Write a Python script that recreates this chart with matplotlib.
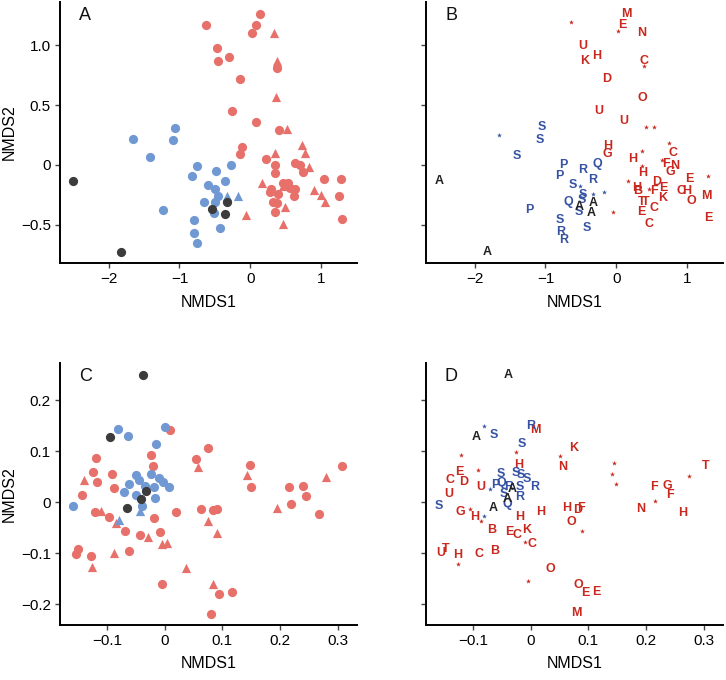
import numpy as np
import matplotlib
matplotlib.use("Agg")
import matplotlib.pyplot as plt

plt.rcParams['font.family'] = ['Liberation Sans', 'DejaVu Sans']

RED = '#E8706A'
BLUE = '#7099D3'
DARK = '#3C3C3C'
TXT_RED = '#C8281E'
TXT_BLUE = '#3552A3'
TXT_BLACK = '#222222'

# ---- panel A (markers) ----
a_red_circ_x = [-0.63, 0.14, 0.085, 0.02, -0.47, -0.45, -0.30, -0.15, 0.38, -0.25, 0.085, 0.41,
                -0.12, -0.14, 0.23, 0.35, 0.35, 0.64, 0.71, 0.75, 1.05, 1.28, 0.29, 0.28, 0.40,
                0.47, 0.54, 0.57, 0.64, 0.62, 1.26, 0.33, 0.38, 0.35, 1.30]
a_red_circ_y = [1.17, 1.26, 1.17, 1.10, 0.98, 0.87, 0.90, 0.72, 0.81, 0.45, 0.36, 0.29,
                0.15, 0.09, 0.05, 0.00, -0.07, 0.02, 0.00, -0.06, -0.12, -0.12, -0.20, -0.23, -0.24,
                -0.15, -0.15, -0.19, -0.20, -0.26, -0.26, -0.31, -0.32, -0.39, -0.45]
a_red_tri_x = [0.34, 0.38, 0.36, 0.52, 0.73, 0.78, 0.35, 0.83, 0.165, 0.47, 0.90, 1.00, 1.06,
               0.50, 0.46, -0.06]
a_red_tri_y = [1.10, 0.87, 0.57, 0.30, 0.17, 0.10, 0.10, -0.02, -0.15, -0.175, -0.21, -0.25, -0.31,
               -0.35, -0.49, -0.42]
a_blue_circ_x = [-1.06, -1.65, -1.09, -1.41, -0.75, -0.27, -0.82, -0.49, -0.35, -0.60, -0.50,
                 -0.46, -0.65, -0.50, -0.51, -1.23, -0.80, -0.42, -0.79, -0.75]
a_blue_circ_y = [0.31, 0.22, 0.21, 0.07, -0.005, 0.003, -0.09, -0.05, -0.13, -0.17, -0.20,
                 -0.26, -0.31, -0.31, -0.40, -0.38, -0.46, -0.53, -0.57, -0.65]
a_blue_tri_x = [-0.33, -0.17]
a_blue_tri_y = [-0.26, -0.26]
a_dark_x = [-2.50, -1.82, -0.54, -0.33, -0.35]
a_dark_y = [-0.13, -0.73, -0.37, -0.31, -0.41]

# ---- panel B (site letters, '*' = unlabelled) ----
b_x = [0.14, 0.085, 0.02, -0.64, 0.36, -0.47, -0.45, -0.28, 0.40, 0.40, -0.14, 0.37, -0.24, 0.11,
       0.42, 0.53, -0.12, -0.13, 0.75, 0.80, 0.24, 0.36, 0.65, 0.71, 0.83, 0.77, 0.37, 0.37,
       1.04, 1.30, 0.17, 0.57, 0.29, 0.31, 0.46, 0.66, 0.54, 0.65, 0.92, 0.99, 1.06, 1.28,
       0.355, 0.42, 0.36, 0.53, 0.47, 1.30, -0.05,
       -1.66, -1.05, -1.08, -1.41, -1.23, -0.75, -0.80, -0.48, -0.27, -0.34, -0.61, -0.51, -0.47,
       -0.33, -0.17, -0.67, -0.49, -0.53, -0.80, -0.78, -0.74, -0.41,
       -2.50, -1.82, -0.53, -0.33, -0.35]
b_y = [1.26, 1.17, 1.12, 1.19, 1.10, 0.99, 0.87, 0.91, 0.87, 0.83, 0.72, 0.56, 0.45, 0.37,
       0.32, 0.32, 0.16, 0.09, 0.18, 0.10, 0.05, 0.12, 0.04, 0.01, -0.01, -0.06, -0.01, -0.07,
       -0.12, -0.09, -0.13, -0.14, -0.19, -0.22, -0.20, -0.19, -0.22, -0.28, -0.22, -0.22, -0.30, -0.26,
       -0.31, -0.31, -0.39, -0.36, -0.49, -0.44, -0.39,
       0.25, 0.32, 0.21, 0.075, -0.375, 0.00, -0.09, -0.04, 0.01, -0.125, -0.17, -0.175, -0.25,
       -0.24, -0.23, -0.31, -0.29, -0.39, -0.46, -0.56, -0.63, -0.53,
       -0.13, -0.73, -0.35, -0.32, -0.40]
b_lab = ['M', 'E', '*', '*', 'N', 'U', 'K', 'H', 'C', '*', 'D', 'O', 'U', 'U',
         '*', '*', 'H', 'G', '*', 'C', 'H', '*', '*', 'F', 'N', 'G', '*', 'H',
         'E', '*', '*', 'D', 'H', 'B', '*', 'E', 'F', 'K', 'C', 'H', 'O', 'M',
         'T', 'T', 'E', 'C', 'C', 'E', '*',
         '*', 'S', 'S', 'S', 'P', 'P', 'P', 'R', 'Q', 'R', 'S', '*', 'S',
         '*', '*', 'Q', 'S', 'S', 'S', 'R', 'R', 'S',
         'A', 'A', 'A', 'A', 'A']
b_grp = ['r'] * 49 + ['b'] * 22 + ['k'] * 5

# ---- panel C (markers) ----
c_red_circ_x = [0.009, 0.075, 0.054, -0.024, -0.020, -0.119, -0.123, -0.117, -0.091, -0.087,
                -0.143, 0.148, 0.150, 0.215, 0.239, 0.245, 0.219, 0.267, 0.307, -0.120, -0.096,
                -0.019, 0.019, 0.063, 0.084, 0.091, -0.068, -0.042, -0.008, -0.061, -0.154,
                -0.149, -0.128, -0.004, 0.095, 0.117, 0.081]
c_red_circ_y = [0.142, 0.107, 0.084, 0.092, 0.071, 0.086, 0.059, 0.039, 0.056, 0.028,
                0.015, 0.072, 0.029, 0.030, 0.032, 0.012, -0.003, -0.024, 0.071, -0.019, -0.029,
                -0.032, -0.020, -0.014, -0.016, -0.014, -0.056, -0.065, -0.059, -0.096, -0.101,
                -0.092, -0.105, -0.161, -0.181, -0.177, -0.220]
c_red_tri_x = [0.058, -0.140, 0.143, 0.280, 0.194, -0.110, -0.084, 0.075, 0.091, -0.029,
               -0.004, 0.004, -0.087, -0.125, 0.038, 0.084]
c_red_tri_y = [0.069, 0.044, 0.053, 0.050, -0.012, -0.018, -0.041, -0.037, -0.060, -0.069,
               -0.082, -0.080, -0.099, -0.127, -0.130, -0.161]
c_blue_circ_x = [-0.081, -0.063, 0.001, -0.014, -0.159, -0.071, -0.061, -0.050, -0.044, -0.033,
                 -0.023, -0.019, -0.010, -0.003, 0.0075, -0.049, -0.017, -0.039]
c_blue_circ_y = [0.143, 0.130, 0.148, 0.115, -0.007, 0.019, 0.035, 0.054, 0.043, 0.032,
                 0.056, 0.029, 0.048, 0.040, 0.030, 0.014, 0.009, -0.008]
c_blue_tri_x = [-0.079, -0.043]
c_blue_tri_y = [-0.035, -0.018]
c_dark_x = [-0.0375, -0.095, -0.032, -0.040, -0.065]
c_dark_y = [0.249, 0.127, 0.022, 0.007, -0.011]

# ---- panel D (site letters) ----
d_x = [0.008, -0.026, -0.021, 0.074, 0.051, 0.055, -0.120, -0.123, -0.091, -0.139, -0.116,
       -0.087, -0.142, -0.122, -0.105, -0.096, -0.086, 0.017, 0.063, 0.081, 0.087, -0.019,
       0.071, 0.089, -0.067, -0.036, -0.023, -0.007, -0.009, 0.002, -0.062, -0.089, -0.156,
       -0.147, -0.126, -0.126, 0.034, -0.005, 0.082, 0.094, 0.114, 0.080, 0.145, 0.141, 0.148,
       0.214, 0.237, 0.242, 0.215, 0.191, 0.264, 0.275, 0.303,
       -0.081, -0.063, 0.000, -0.015, -0.070, -0.159, -0.080, -0.051, -0.061, -0.050, -0.038,
       -0.025, -0.016, -0.006, 0.007, -0.019, -0.046, -0.019, -0.040,
       -0.038, -0.094, -0.065, -0.031, -0.041]
d_y = [0.142, 0.099, 0.073, 0.107, 0.091, 0.069, 0.092, 0.059, 0.063, 0.043, 0.040,
       0.030, 0.017, -0.019, -0.014, -0.030, -0.037, -0.019, -0.012, -0.016, -0.012, -0.029,
       -0.039, -0.057, -0.055, -0.058, -0.065, -0.055, -0.078, -0.082, -0.095, -0.101, -0.099,
       -0.091, -0.104, -0.122, -0.132, -0.155, -0.163, -0.179, -0.176, -0.217, 0.077, 0.055, 0.035,
       0.030, 0.032, 0.014, 0.003, -0.014, -0.022, 0.052, 0.071,
       0.149, 0.131, 0.149, 0.115, 0.025, -0.008, -0.028, 0.056, 0.033, 0.037, 0.030,
       0.058, 0.053, 0.046, 0.030, 0.030, 0.017, 0.010, -0.004,
       0.249, 0.127, -0.012, 0.025, 0.007]
d_lab = ['M', '*', 'H', 'K', '*', 'N', '*', 'E', '*', 'C', 'D',
         'U', 'U', 'G', '*', 'H', '*', 'H', 'H', 'D', 'F', 'H',
         'O', '*', 'B', 'E', 'C', 'K', '*', 'C', 'B', 'C', 'U',
         'T', 'H', '*', 'O', '*', 'O', 'E', 'E', 'M', '*', '*', '*',
         'F', 'G', 'F', '*', 'N', 'H', '*', 'T',
         '*', 'S', 'R', 'S', '*', 'S', '*', 'S', 'P', 'Q', 'R',
         'S', 'S', 'S', 'R', 'S', 'S', 'R', 'Q',
         'A', 'A', 'A', 'A', 'A']
d_grp = ['r'] * 53 + ['b'] * 19 + ['k'] * 5


def style_axes(ax, xlim, ylim, xticks, yticks, xlabels, ylabels, show_ylab):
    ax.set_xlim(*xlim)
    ax.set_ylim(*ylim)
    ax.set_xticks(xticks)
    ax.set_yticks(yticks)
    ax.set_xticklabels(xlabels)
    if show_ylab:
        ax.set_yticklabels(ylabels)
        ax.set_ylabel('NMDS2', fontsize=11.5, labelpad=3)
    else:
        ax.set_yticklabels([])
    ax.set_xlabel('NMDS1', fontsize=11.5, labelpad=6)
    for s in ['top', 'right']:
        ax.spines[s].set_visible(False)
    for s in ['left', 'bottom']:
        ax.spines[s].set_linewidth(1.4)
        ax.spines[s].set_color('black')
    ax.tick_params(axis='both', direction='out', length=3.5, width=1.0, color='#444444',
                   labelsize=11, labelcolor='black', pad=3)


def markers_panel(ax, rcx, rcy, rtx, rty, bcx, bcy, btx, bty, dx, dy):
    kw = dict(s=44, linewidths=0, zorder=3)
    ax.scatter(rcx, rcy, c=RED, marker='o', **kw)
    ax.scatter(rtx, rty, c=RED, marker='^', **kw)
    ax.scatter(bcx, bcy, c=BLUE, marker='o', **kw)
    ax.scatter(btx, bty, c=BLUE, marker='^', **kw)
    ax.scatter(dx, dy, c=DARK, marker='o', **kw)


def letters_panel(ax, xs, ys, labs, grps):
    cmap = {'r': TXT_RED, 'b': TXT_BLUE, 'k': TXT_BLACK}
    for x, y, lab, g in zip(xs, ys, labs, grps):
        if lab == '*':
            ax.scatter([x], [y], marker='*', s=14, c=cmap[g], linewidths=0, zorder=3)
        else:
            ax.text(x, y, lab, color=cmap[g], fontsize=9, fontweight='bold',
                    ha='center', va='center', zorder=3)


fig = plt.figure(figsize=(7.26, 6.8), dpi=100)
ax_a = fig.add_axes([0.0826, 0.613, 0.409, 0.384])
ax_b = fig.add_axes([0.5868, 0.613, 0.409, 0.384])
ax_c = fig.add_axes([0.0826, 0.081, 0.409, 0.385])
ax_d = fig.add_axes([0.5868, 0.081, 0.409, 0.385])

xl_ab = (-2.69, 1.51)
yl_ab = (-0.82, 1.36)
xt_ab = [-2, -1, 0, 1]
yt_ab = [-0.5, 0, 0.5, 1.0]
xlab_ab = ['\u22122', '\u22121', '0', '1']
ylab_ab = ['\u22120.5', '0', '0.5', '1.0']

xl_cd = (-0.181, 0.333)
yl_cd = (-0.241, 0.273)
xt_cd = [-0.1, 0, 0.1, 0.2, 0.3]
yt_cd = [-0.2, -0.1, 0, 0.1, 0.2]
xlab_cd = ['\u22120.1', '0', '0.1', '0.2', '0.3']
ylab_cd = ['\u22120.2', '\u22120.1', '0', '0.1', '0.2']

markers_panel(ax_a, a_red_circ_x, a_red_circ_y, a_red_tri_x, a_red_tri_y,
              a_blue_circ_x, a_blue_circ_y, a_blue_tri_x, a_blue_tri_y, a_dark_x, a_dark_y)
style_axes(ax_a, xl_ab, yl_ab, xt_ab, yt_ab, xlab_ab, ylab_ab, True)

letters_panel(ax_b, b_x, b_y, b_lab, b_grp)
style_axes(ax_b, xl_ab, yl_ab, xt_ab, yt_ab, xlab_ab, ylab_ab, False)

markers_panel(ax_c, c_red_circ_x, c_red_circ_y, c_red_tri_x, c_red_tri_y,
              c_blue_circ_x, c_blue_circ_y, c_blue_tri_x, c_blue_tri_y, c_dark_x, c_dark_y)
style_axes(ax_c, xl_cd, yl_cd, xt_cd, yt_cd, xlab_cd, ylab_cd, True)

letters_panel(ax_d, d_x, d_y, d_lab, d_grp)
style_axes(ax_d, xl_cd, yl_cd, xt_cd, yt_cd, xlab_cd, ylab_cd, False)

for ax, tag in zip([ax_a, ax_b, ax_c, ax_d], ['A', 'B', 'C', 'D']):
    ax.text(0.085, 0.95, tag, transform=ax.transAxes, fontsize=13,
            ha='center', va='center', color='#111111')

fig.savefig('out.png', dpi=100)
